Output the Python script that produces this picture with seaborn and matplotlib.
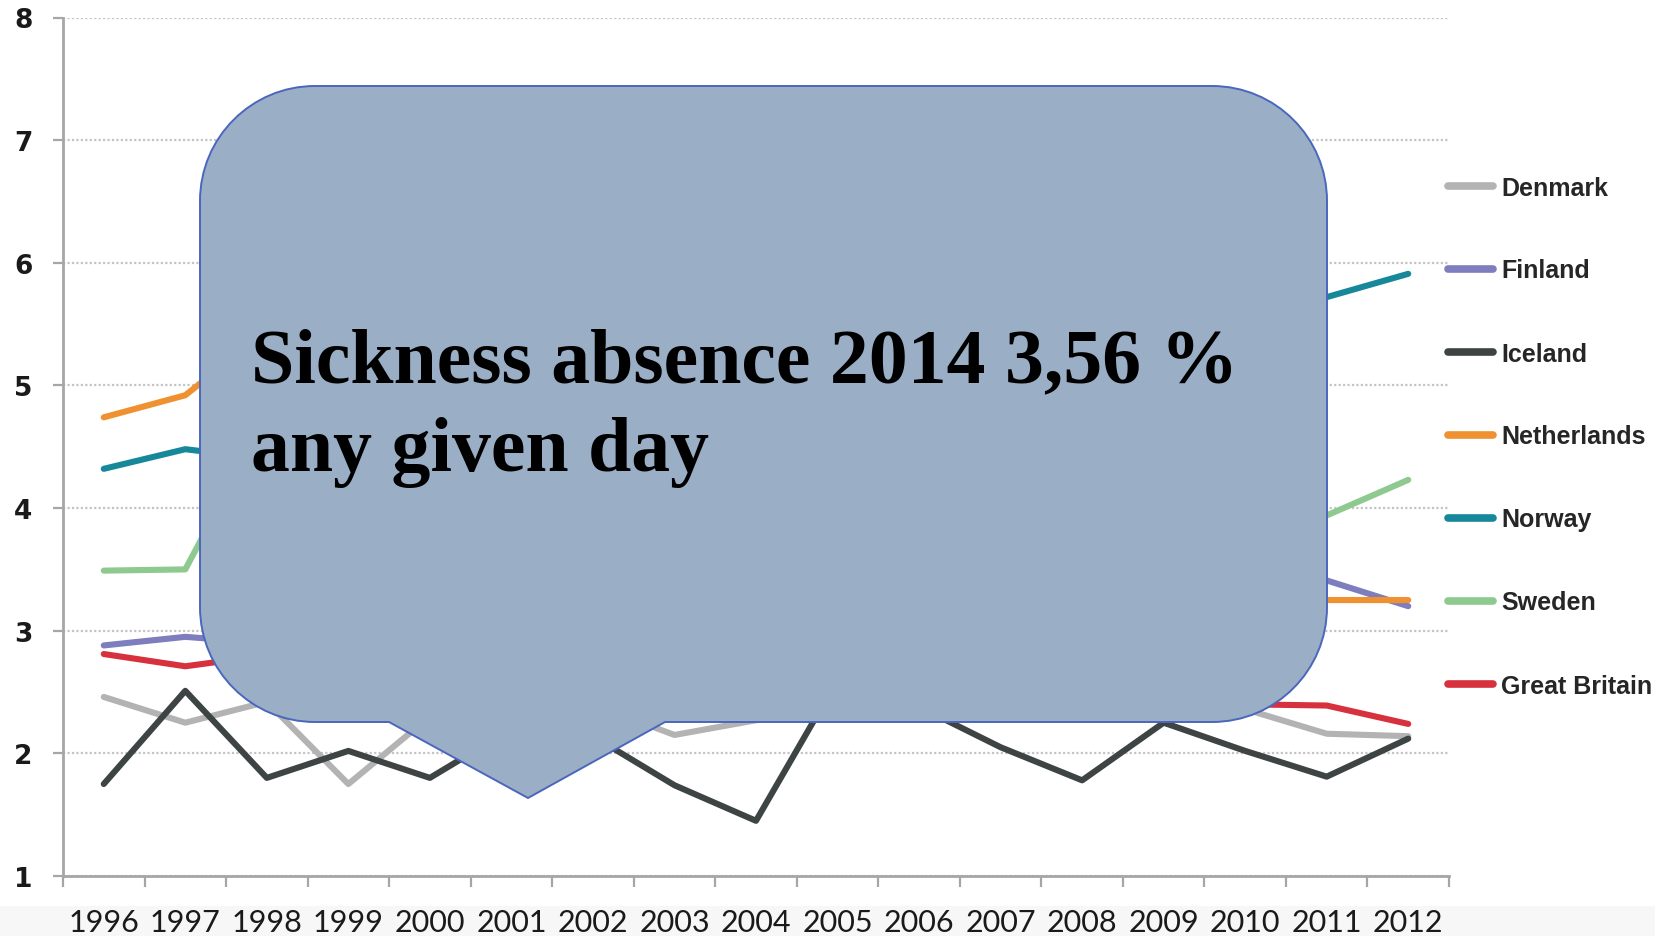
import numpy as np
import pandas as pd
import matplotlib
matplotlib.use("Agg")
import matplotlib.pyplot as plt
from matplotlib.path import Path
from matplotlib.patches import PathPatch, Rectangle
from matplotlib.transforms import IdentityTransform
from matplotlib.ticker import FixedLocator
import seaborn as sns

# Sickness absence (% of working days) by country
years = list(range(1996, 2013))
countries = ["Denmark", "Finland", "Iceland", "Netherlands", "Norway", "Sweden", "Great Britain"]
denmark = [2.46, 2.25, 2.42, 1.75, 2.30, 2.45, 2.40, 2.15, 2.27, 2.40, 2.50, 2.45, 2.55, 2.45, 2.36, 2.16, 2.14]
finland = [2.88, 2.95, 2.90, 3.00, 3.10, 3.20, 3.30, 3.40, 3.35, 3.40, 3.50, 3.55, 3.60, 3.55, 3.50, 3.41, 3.20]
iceland = [1.75, 2.51, 1.80, 2.02, 1.80, 2.20, 2.14, 1.74, 1.45, 2.60, 2.38, 2.05, 1.78, 2.25, 2.02, 1.81, 2.12]
netherlands = [4.74, 4.92, 5.45, 5.50, 5.40, 5.30, 5.10, 4.80, 4.40, 4.10, 3.90, 3.70, 3.55, 3.45, 3.35, 3.25, 3.25]
norway = [4.32, 4.48, 4.40, 4.90, 5.30, 5.70, 6.20, 6.40, 5.70, 5.50, 5.70, 5.80, 5.85, 6.00, 5.90, 5.72, 5.91]
sweden = [3.49, 3.50, 4.75, 5.00, 5.30, 5.60, 5.80, 5.60, 5.10, 4.70, 4.40, 4.00, 3.50, 3.30, 3.60, 3.94, 4.23]
great_britain = [2.81, 2.71, 2.80, 2.85, 2.90, 2.80, 2.75, 2.70, 2.60, 2.55, 2.50, 2.50, 2.45, 2.42, 2.40, 2.39, 2.24]
y_ticks = [1, 2, 3, 4, 5, 6, 7, 8]
callout_lines = ["Sickness absence 2014 3,56 %", "any given day"]

colors = ["#b3b3b3", "#7e7dbd", "#3e4444", "#ef9130", "#17879a", "#8ec98f", "#d8313e"]

series = [denmark, finland, iceland, netherlands, norway, sweden, great_britain]
df = pd.DataFrame({
    "year": np.tile(years, len(countries)),
    "absence": np.concatenate(series),
    "country": np.repeat(countries, len(years)),
})

sns.set_theme(style="white")
W, H = 1656, 937
fig = plt.figure(figsize=(W / 100, H / 100), dpi=100)
fig.patch.set_facecolor("white")

# faint band behind the year labels
fig.add_artist(Rectangle((0, 0), W, 30, transform=IdentityTransform(),
                         facecolor="#f7f7f7", edgecolor="none", zorder=0))

ax = fig.add_axes([63 / W, 1 - 877 / H, (1449 - 63) / W, (877 - 18.5) / H])
ax.set_facecolor("none")

sns.lineplot(data=df, x="year", y="absence", hue="country", hue_order=countries,
             palette=colors, linewidth=4.4, ax=ax, solid_capstyle="round", zorder=3)

ax.set_xlim(1995.5, 2012.5)
ax.set_ylim(1, 8)
ax.set_xlabel("")
ax.set_ylabel("")

# year labels centred in each category, tick marks on the boundaries
ax.xaxis.set_major_locator(FixedLocator(years))
ax.set_xticklabels([str(y) for y in years], fontfamily="Lato", fontsize=22, color="#1a1a1a")
ax.xaxis.set_minor_locator(FixedLocator([y - 0.5 for y in years] + [2012.5]))
ax.tick_params(axis="x", which="major", length=0, pad=23)
ax.tick_params(axis="x", which="minor", length=8, width=1.6, color="#a6a6a6", direction="out", bottom=True)

ax.set_yticks(y_ticks)
ax.set_yticklabels([str(v) for v in y_ticks], fontfamily="DejaVu Sans", fontweight="bold",
                   fontsize=19, color="#1a1a1a")
ax.tick_params(axis="y", length=7, width=1.6, color="#a6a6a6", direction="out", pad=15, left=True)

ax.grid(axis="y", color="#c4c4c4", linestyle=(0, (1, 1)), linewidth=1.6)
ax.grid(axis="x", visible=False)
for side in ["top", "right"]:
    ax.spines[side].set_visible(False)
for side in ["left", "bottom"]:
    ax.spines[side].set_color("#a6a6a6")
    ax.spines[side].set_linewidth(2)

sns.move_legend(ax, loc="upper left", bbox_to_anchor=(1426 / W, 1 - 154 / H),
                bbox_transform=fig.transFigure, frameon=False, title=None,
                labelspacing=2.36, handlelength=1.8, handletextpad=0.3,
                prop={"family": "Liberation Sans", "weight": "bold", "size": 18})
for line in ax.get_legend().get_lines():
    line.set_linewidth(5.5)
    line.set_solid_capstyle("round")

# speech-bubble callout drawn in pixel space
L, R, T, B, r = 200, 1327, 87, 723, 115
x1, tip, x2 = 389, (528, 799), 665
k = 0.5523 * r
pts = [
    (L + r, T), (R - r, T),
    (R - r + k, T), (R, T + r - k), (R, T + r),
    (R, B - r),
    (R, B - r + k), (R - r + k, B), (R - r, B),
    (x2, B), tip, (x1, B), (L + r, B),
    (L + r - k, B), (L, B - r + k), (L, B - r),
    (L, T + r),
    (L, T + r - k), (L + r - k, T), (L + r, T),
    (L + r, T),
]
codes = [Path.MOVETO, Path.LINETO,
         Path.CURVE4, Path.CURVE4, Path.CURVE4,
         Path.LINETO,
         Path.CURVE4, Path.CURVE4, Path.CURVE4,
         Path.LINETO, Path.LINETO, Path.LINETO, Path.LINETO,
         Path.CURVE4, Path.CURVE4, Path.CURVE4,
         Path.LINETO,
         Path.CURVE4, Path.CURVE4, Path.CURVE4,
         Path.CLOSEPOLY]
pts = [(x, H - y) for x, y in pts]
bubble = PathPatch(Path(pts, codes), transform=IdentityTransform(),
                   facecolor="#9aaec6", edgecolor="#4a66bd", linewidth=1.4, zorder=10)
fig.add_artist(bubble)

for text, base in zip(callout_lines, [382, 471]):
    fig.text(251, H - base, text, transform=IdentityTransform(), ha="left", va="baseline",
             fontfamily="Liberation Serif", fontweight="bold", fontsize=56, color="black", zorder=11)

fig.savefig("out.png", dpi=100)
